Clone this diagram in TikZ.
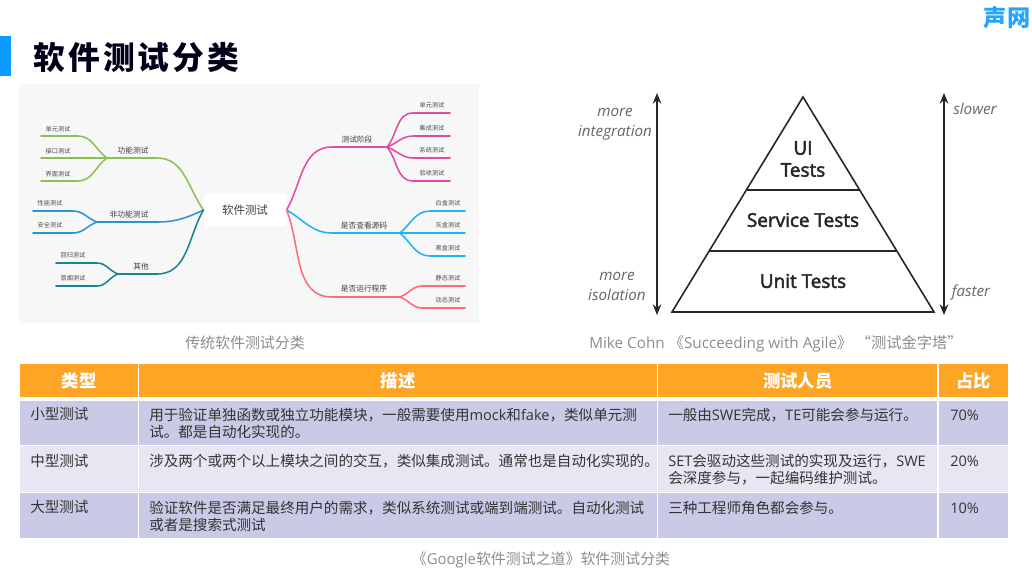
\documentclass[tikz,border=0pt]{standalone}
\usepackage{fontspec}
\setmainfont{Noto Sans CJK SC}
\newfontfamily\en{Open Sans}
\usetikzlibrary{arrows.meta}
\definecolor{barblue}{HTML}{0A9BFF}
\definecolor{headorange}{HTML}{FFA526}
\definecolor{rowdark}{HTML}{C9CAE6}
\definecolor{rowlight}{HTML}{E6E7F2}
\definecolor{mapbg}{HTML}{F7F7F7}
\definecolor{mapgreen}{HTML}{8CC152}
\definecolor{mapblue}{HTML}{2A93D8}
\definecolor{mapteal}{HTML}{17858F}
\definecolor{mappink}{HTML}{E24AA5}
\definecolor{mapsky}{HTML}{1FB2F8}
\definecolor{mapred}{HTML}{FF6B7C}
\tikzset{
  lnk/.style={line width=1.15pt,line cap=round},
  leaf/.style={text=black!70,font=\fontsize{4.6pt}{5pt}\selectfont,inner sep=0pt},
  branch/.style={text=black!75,font=\fontsize{5.8pt}{6pt}\selectfont,inner sep=0pt},
  capt/.style={text=black!45,font=\fontsize{11.2pt}{13pt}\selectfont,inner sep=0pt},
  pyr/.style={text=black!85,font=\en\fontsize{14.2pt}{16.5pt}\selectfont\addfontfeature{FakeBold=2.5},inner sep=0pt,align=center},
  side/.style={text=black!60,font=\en\itshape\fontsize{11.4pt}{15pt}\selectfont,inner sep=0pt,align=center},
  headcell/.style={fill=headorange,text=white,anchor=north west,inner sep=0pt,minimum height=24.75pt,font=\fontsize{13pt}{15pt}\selectfont\bfseries},
  bodycell/.style={anchor=north west,inner sep=0pt,minimum height=#1},
  celltext/.style={anchor=north west,inner sep=0pt,align=left,text=black!80,font=\fontsize{10.92pt}{12.75pt}\selectfont}
}
\begin{document}
\begin{tikzpicture}[x=0.75pt,y=-0.75pt]
\useasboundingbox (0,0) rectangle (1032,568);
\fill[barblue] (0,36) rectangle (11,76);
\node[inner sep=0pt,anchor=west,text=black!90!blue,font=\fontsize{23.8pt}{26pt}\selectfont\bfseries\addfontfeature{LetterSpace=10}] (title) at (33,57) {软件测试分类};
\node[inner sep=0pt,text=barblue!90!white,font=\fontsize{17.4pt}{20pt}\selectfont\bfseries] (logo) at (1007,18) {声网};

\fill[mapbg] (19,84) rectangle (479,323);
\node[fill=white,rounded corners=2pt,minimum width=62pt,minimum height=24pt,inner sep=0pt,text=black!75,font=\fontsize{8.6pt}{10pt}\selectfont] (root) at (245,210) {软件测试};

\coordinate (ga) at (157,158); \coordinate (gh) at (107,158);
\draw[lnk,mapgreen] (root.west) to[out=125,in=0] (ga) -- (gh);
\node[branch] (gt) at (133,151) {功能测试};
\foreach \n/\yy/\ang/\t in {1/136/145/单元测试,2/158/180/接口测试,3/181/215/界面测试}{
  \coordinate (ga\n) at (78,\yy); \coordinate (gl\n) at (41,\yy);
  \draw[lnk,mapgreen] (gh) to[out=\ang,in=0] (ga\n) -- (gl\n);
  \node[leaf] (gt\n) at (58,\yy-7) {\t};
}
\coordinate (ba) at (157,222); \coordinate (bh) at (97,222);
\draw[lnk,mapblue] (root.west) to[out=205,in=0] (ba) -- (bh);
\node[branch] (bt) at (129,215) {非功能测试};
\foreach \n/\yy/\ang/\t in {1/211/160/性能测试,2/233/200/安全测试}{
  \coordinate (ba\n) at (73,\yy); \coordinate (bl\n) at (33,\yy);
  \draw[lnk,mapblue] (bh) to[out=\ang,in=0] (ba\n) -- (bl\n);
  \node[leaf] (bt\n) at (50,\yy-7.5) {\t};
}
\coordinate (ta) at (157,274); \coordinate (th) at (118,274);
\draw[lnk,mapteal] (root.west) to[out=240,in=0] (ta) -- (th);
\node[branch] (tt) at (141,267) {其他};
\foreach \n/\yy/\ang/\t in {1/263/160/回归测试,2/286/200/冒烟测试}{
  \coordinate (ta\n) at (97,\yy); \coordinate (tl\n) at (56,\yy);
  \draw[lnk,mapteal] (th) to[out=\ang,in=0] (ta\n) -- (tl\n);
  \node[leaf] (tt\n) at (73,\yy-7.5) {\t};
}

\coordinate (pa) at (332,147); \coordinate (ph) at (387,147);
\draw[lnk,mappink] (root.east) to[out=60,in=180] (pa) -- (ph);
\node[branch] (pt) at (357,140) {测试阶段};
\foreach \n/\yy/\ang/\t in {1/113/50/单元测试,2/136/20/集成测试,3/158/-20/系统测试,4/181/-50/验收测试}{
  \coordinate (pa\n) at (413,\yy); \coordinate (pl\n) at (450,\yy);
  \draw[lnk,mappink] (ph) to[out=\ang,in=180] (pa\n) -- (pl\n);
  \node[leaf] (pt\n) at (432,\yy-7.5) {\t};
}
\coordinate (sa) at (332,233); \coordinate (sh) at (400,233);
\draw[lnk,mapsky] (root.east) to[out=-30,in=180] (sa) -- (sh);
\node[branch] (st) at (364,226) {是否查看源码};
\foreach \n/\yy/\ang/\t in {1/211/40/白盒测试,2/233/0/灰盒测试,3/256/-40/黑盒测试}{
  \coordinate (sa\n) at (430,\yy); \coordinate (sl\n) at (465,\yy);
  \draw[lnk,mapsky] (sh) to[out=\ang,in=180] (sa\n) -- (sl\n);
  \node[leaf] (st\n) at (448,\yy-7.5) {\t};
}
\coordinate (ra) at (332,297); \coordinate (rh) at (400,297);
\draw[lnk,mapred] (root.east) to[out=-68,in=180] (ra) -- (rh);
\node[branch] (rt) at (364,289) {是否运行程序};
\foreach \n/\yy/\ang/\t in {1/286/20/静态测试,2/308/-20/动态测试}{
  \coordinate (ra\n) at (422,\yy); \coordinate (rl\n) at (465,\yy);
  \draw[lnk,mapred] (rh) to[out=\ang,in=180] (ra\n) -- (rl\n);
  \node[leaf] (rt\n) at (448,\yy-7.5) {\t};
}
\node[capt] (capa) at (245,343) {传统软件测试分类};

\coordinate (top) at (803,97); \coordinate (bl) at (672,312); \coordinate (br) at (934,312);
\draw[line width=1.2pt,black!85,line join=miter] (top) -- (bl) -- (br) -- cycle;
\coordinate (al) at (746,190); \coordinate (ar) at (859,190);
\coordinate (cl) at (709,251); \coordinate (cr) at (896,251);
\draw[line width=1.1pt,black!85] (al) -- (ar);
\draw[line width=1.1pt,black!85] (cl) -- (cr);
\node[pyr] (ui) at (803,159) {UI\\Tests};
\node[pyr] (service) at (803,220) {Service Tests};
\node[pyr] (unit) at (803,281) {Unit Tests};
\coordinate (lu) at (657,93); \coordinate (ld) at (657,315);
\coordinate (ru) at (944,93); \coordinate (rd) at (944,315);
\draw[line width=1pt,black!85,{Stealth[length=8pt,width=6.5pt]}-{Stealth[length=8pt,width=6.5pt]}] (lu) -- (ld);
\draw[line width=1pt,black!85,{Stealth[length=8pt,width=6.5pt]}-{Stealth[length=8pt,width=6.5pt]}] (ru) -- (rd);
\node[side] (integ) at (615,124) {more\\integration};
\node[side] (iso) at (617,286) {more\\isolation};
\node[side] (slow) at (975,109) {slower};
\node[side] (fast) at (971,293) {faster};
\node[capt,font=\fontsize{11.45pt}{13pt}\selectfont] (capb) at (776,344) {{\en Mike Cohn }《{\en Succeeding with Agile}》 “测试金字塔”};

\node[headcell,minimum width=88.5pt] (h1) at (20,364) {类型};
\node[headcell,minimum width=388.5pt] (h2) at (139,364) {描述};
\node[headcell,minimum width=209.25pt] (h3) at (658,364) {测试人员};
\node[headcell,minimum width=51.75pt] (h4) at (939,364) {占比};
\foreach \r/\yy/\hh/\c in {1/401/33pt/rowdark,2/446/34.5pt/rowlight,3/493/33.75pt/rowdark}{
  \node[bodycell=\hh,minimum width=88.5pt,fill=\c] (a\r) at (20,\yy) {};
  \node[bodycell=\hh,minimum width=388.5pt,fill=\c] (b\r) at (139,\yy) {};
  \node[bodycell=\hh,minimum width=209.25pt,fill=\c] (c\r) at (658,\yy) {};
  \node[bodycell=\hh,minimum width=51.75pt,fill=\c] (d\r) at (939,\yy) {};
}
\node[celltext] (ta1) at (30,407.5) {小型测试};
\node[celltext] (tb1) at (149,407.5) {用于验证单独函数或独立功能模块，一般需要使用{\en mock}和{\en fake}，类似单元测\\试。都是自动化实现的。};
\node[celltext] (tc1) at (668,407.5) {一般由{\en SWE}完成，{\en TE}可能会参与运行。};
\node[celltext] (td1) at (950,410) {\en 70\%};
\node[celltext] (ta2) at (30,453.5) {中型测试};
\node[celltext] (tb2) at (149,453.5) {涉及两个或两个以上模块之间的交互，类似集成测试。通常也是自动化实现的。};
\node[celltext] (tc2) at (668,453.5) {{\en SET}会驱动这些测试的实现及运行，{\en SWE}\\会深度参与，一起编码维护测试。};
\node[celltext] (td2) at (950,456) {\en 20\%};
\node[celltext] (ta3) at (30,500.5) {大型测试};
\node[celltext] (tb3) at (149,500.5) {验证软件是否满足最终用户的需求，类似系统测试或端到端测试。自动化测试\\或者是搜索式测试};
\node[celltext] (tc3) at (668,500.5) {三种工程师角色都会参与。};
\node[celltext] (td3) at (950,503) {\en 10\%};
\node[capt] (capc) at (541,560) {《{\en Google}软件测试之道》软件测试分类};
\end{tikzpicture}
\end{document}
